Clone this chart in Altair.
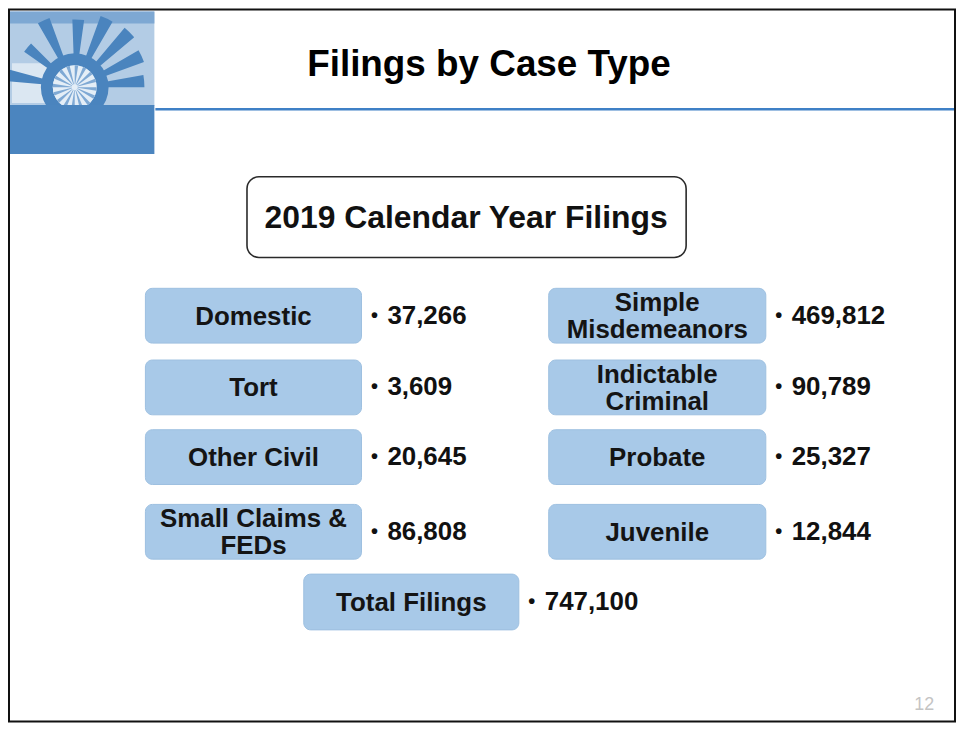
import altair as alt
import pandas as pd

# ---------------- data ----------------
slide_title = "Filings by Case Type"
subtitle = "2019 Calendar Year Filings"
left_types = ["Domestic", "Tort", "Other Civil", "Small Claims &\nFEDs"]
left_counts = [37266, 3609, 20645, 86808]
right_types = ["Simple\nMisdemeanors", "Indictable\nCriminal", "Probate", "Juvenile"]
right_counts = [469812, 90789, 25327, 12844]
total_label = "Total Filings"
total_count = 747100
page_number = "12"

# logo sun-ray angles (degrees clockwise from north) and lengths
ray_angles = [-80, -50, -25, 3, 25, 45, 65, 85]
ray_lengths = [40, 30, 42, 36, 44, 46, 42, 38]

# ---------------- layout ----------------
FONT = "Liberation Sans, Arial, sans-serif"
BOX_FILL = "#a8c9e8"
LINE_H = 27
col_x = {"L": (146, 363), "R": (551, 769)}
row_tops = [288, 360, 430, 505]
box_h = 55
total_box = (305, 521, 575, 631)

rows = []
for side, types, counts in (("L", left_types, left_counts), ("R", right_types, right_counts)):
    x1, x2 = col_x[side]
    for i, (t, c) in enumerate(zip(types, counts)):
        y1 = row_tops[i]
        rows.append(dict(label=t, value=f"{c:,}", x1=x1, x2=x2, y1=y1, y2=y1 + box_h))
rows.append(dict(label=total_label, value=f"{total_count:,}",
                 x1=total_box[0], x2=total_box[1], y1=total_box[2], y2=total_box[3]))
boxes = pd.DataFrame(rows)
boxes["cx"] = (boxes.x1 + boxes.x2) / 2
boxes["cy"] = (boxes.y1 + boxes.y2) / 2
boxes["nlines"] = boxes.label.str.count("\n") + 1
boxes["ly"] = boxes.cy - (boxes.nlines - 1) * LINE_H / 2 + 1
boxes["bx"] = boxes.x2 + 13
boxes["vx"] = boxes.x2 + 26
boxes["bullet"] = "\u2022"

X = alt.Scale(domain=[8, 960], range=[0, 952])
Y = alt.Scale(domain=[8, 724], range=[0, 716])

def xe(f):
    return alt.X(f, type="quantitative", scale=X, axis=None)

def ye(f):
    return alt.Y(f, type="quantitative", scale=Y, axis=None)

def rect_layer(df, **kw):
    return alt.Chart(df).mark_rect(**kw).encode(
        x=xe("x1"), x2="x2", y=ye("y1"), y2="y2")

# ---------------- logo ----------------
logo_bg = pd.DataFrame([
    dict(x1=10, x2=155, y1=10, y2=105, c="#b3cce5"),
    dict(x1=10, x2=155, y1=10, y2=22, c="#7ea8d3"),
    dict(x1=12, x2=60, y1=62, y2=102, c="#dbe7f2"),
])
logo_rects = alt.Chart(logo_bg).mark_rect().encode(
    x=xe("x1"), x2="x2", y=ye("y1"), y2="y2", color=alt.Color("c:N", scale=None))

cx, cy = 75, 86
rays = pd.DataFrame({
    "t1": [(a - 5) * 3.14159 / 180 for a in ray_angles],
    "t2": [(a + 5) * 3.14159 / 180 for a in ray_angles],
    "r2": [32 + l for l in ray_lengths],
})
rays["x"] = cx
rays["y"] = cy
ray_layer = alt.Chart(rays).mark_arc(innerRadius=30, color="#4a84be").encode(
    x=xe("x"), y=ye("y"),
    theta=alt.Theta("t1:Q", scale=None, stack=None), theta2="t2",
    radius=alt.Radius("r2:Q", scale=None))

ring = pd.DataFrame({"x": [cx], "y": [cy]})
ring_layer = alt.Chart(ring).mark_arc(innerRadius=22, outerRadius=34, theta=0, theta2=6.2832,
                                      color="#4a84be").encode(x=xe("x"), y=ye("y"))
disc_layer = alt.Chart(ring).mark_arc(outerRadius=22, theta=0, theta2=6.2832,
                                      color="#e4eef7").encode(x=xe("x"), y=ye("y"))
spokes = pd.DataFrame({
    "t1": [k * 6.2832 / 16 for k in range(16)],
    "t2": [k * 6.2832 / 16 + 0.16 for k in range(16)],
})
spokes["x"] = cx
spokes["y"] = cy
spoke_layer = alt.Chart(spokes).mark_arc(innerRadius=3, outerRadius=22, color="#7fa9d4").encode(
    x=xe("x"), y=ye("y"),
    theta=alt.Theta("t1:Q", scale=None, stack=None), theta2="t2")

ground = rect_layer(pd.DataFrame([dict(x1=10, x2=155, y1=104, y2=153)]), color="#4b85bf")

# ---------------- header ----------------
header_line = rect_layer(pd.DataFrame([dict(x1=156, x2=960, y1=107, y2=109.5)]), color="#3f80c6")
title_layer = alt.Chart(pd.DataFrame([dict(t=slide_title, x=491, y=64)])).mark_text(
    font=FONT, fontSize=37, fontWeight="bold", color="#000000", baseline="middle", align="center"
).encode(x=xe("x"), y=ye("y"), text="t:N")

sub_box = rect_layer(pd.DataFrame([dict(x1=248, x2=689, y1=176, y2=257)]),
                     fill="#ffffff", stroke="#2a2a2a", strokeWidth=1.6, cornerRadius=12)
sub_text = alt.Chart(pd.DataFrame([dict(t=subtitle, x=468, y=217)])).mark_text(
    font=FONT, fontSize=32, fontWeight="bold", color="#111111", baseline="middle", align="center"
).encode(x=xe("x"), y=ye("y"), text="t:N")

# ---------------- boxes ----------------
box_layer = alt.Chart(boxes).mark_rect(fill=BOX_FILL, stroke="#9dbfe0", strokeWidth=1,
                                       cornerRadius=7).encode(
    x=xe("x1"), x2="x2", y=ye("y1"), y2="y2")
label_layer = alt.Chart(boxes).mark_text(
    font=FONT, fontSize=26, fontWeight="bold", color="#141414", baseline="middle",
    align="center", lineBreak="\n", lineHeight=LINE_H
).encode(x=xe("cx"), y=ye("ly"), text="label:N")
bullet_layer = alt.Chart(boxes).mark_text(
    font=FONT, fontSize=20, fontWeight="bold", color="#111111", baseline="middle", align="center"
).encode(x=xe("bx"), y=ye("cy"), text="bullet:N")
value_layer = alt.Chart(boxes).mark_text(
    font=FONT, fontSize=26, fontWeight="bold", color="#111111", baseline="middle", align="left"
).encode(x=xe("vx"), y=ye("cy"), text="value:N")

page_layer = alt.Chart(pd.DataFrame([dict(t=page_number, x=928, y=706)])).mark_text(
    font=FONT, fontSize=18, color="#c4c4c4", baseline="middle", align="center"
).encode(x=xe("x"), y=ye("y"), text="t:N")

frame = rect_layer(pd.DataFrame([dict(x1=9, x2=959, y1=8, y2=723)]),
                   fill="transparent", stroke="#111111", strokeWidth=2)

chart = alt.layer(
    logo_rects, ray_layer, ring_layer, disc_layer, spoke_layer, ground,
    header_line, title_layer, sub_box, sub_text,
    box_layer, label_layer, bullet_layer, value_layer, page_layer, frame
).properties(
    width=952, height=716, autosize=alt.AutoSizeParams(type="none"), padding=0,
    background="#ffffff"
).configure_view(strokeWidth=0)

chart.save("out.html", embed_options={"renderer": "svg", "actions": False})
